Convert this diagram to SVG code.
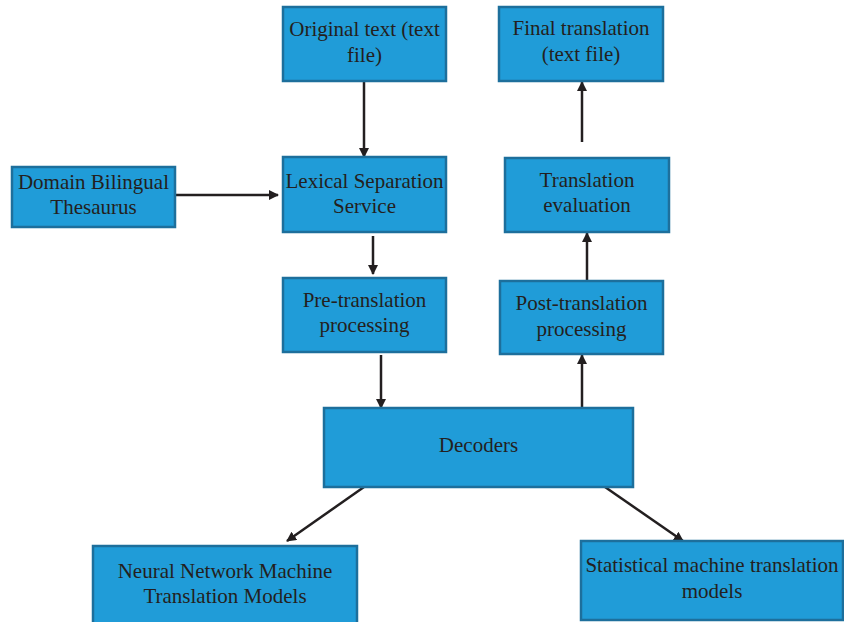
<svg xmlns="http://www.w3.org/2000/svg" width="844" height="622" viewBox="0 0 844 622">
<style>
.box{fill:#209cd8;stroke:#1d6f9c;stroke-width:2.5}
.t{font-family:"Liberation Serif","DejaVu Serif",serif;font-size:21px;fill:#231f20;text-anchor:middle}
.c{stroke:#231f20;stroke-width:2.5;fill:none;marker-end:url(#ah)}
</style>
<defs>
<marker id="ah" viewBox="0 0 10 10" refX="9" refY="5" markerWidth="4" markerHeight="4" markerUnits="strokeWidth" orient="auto">
<path d="M0,0 L10,5 L0,10 Z" fill="#231f20"/>
</marker>
</defs>
<rect width="844" height="622" fill="#fff"/>
<g id="connectors">
<line class="c" x1="364" y1="81" x2="364" y2="157"/>
<line class="c" x1="175" y1="195" x2="278" y2="195"/>
<line class="c" x1="373" y1="236" x2="373" y2="274"/>
<line class="c" x1="381" y1="355" x2="381" y2="408"/>
<line class="c" x1="582" y1="408" x2="582" y2="355"/>
<line class="c" x1="587" y1="281" x2="587" y2="233"/>
<line class="c" x1="582" y1="142" x2="582" y2="82"/>
<line class="c" x1="364" y1="487" x2="287" y2="541"/>
<line class="c" x1="605" y1="487" x2="683" y2="541"/>
</g>
<g id="original">
<rect class="box" x="283" y="7" width="163" height="74"/>
<text class="t" x="364.5" y="36">Original text (text</text>
<text class="t" x="364.5" y="62">file)</text>
</g>
<g id="final">
<rect class="box" x="499" y="7" width="164" height="74"/>
<text class="t" x="581" y="35">Final translation</text>
<text class="t" x="581" y="61">(text file)</text>
</g>
<g id="domain">
<rect class="box" x="12" y="167" width="163" height="60"/>
<text class="t" x="93.5" y="189">Domain Bilingual</text>
<text class="t" x="93.5" y="214">Thesaurus</text>
</g>
<g id="lexical">
<rect class="box" x="283" y="157" width="163" height="75"/>
<text class="t" x="364.5" y="188">Lexical Separation</text>
<text class="t" x="364.5" y="213">Service</text>
</g>
<g id="evaluation">
<rect class="box" x="505" y="158" width="164" height="74"/>
<text class="t" x="587" y="187">Translation</text>
<text class="t" x="587" y="212">evaluation</text>
</g>
<g id="pre">
<rect class="box" x="283" y="278" width="163" height="74"/>
<text class="t" x="364.5" y="307">Pre-translation</text>
<text class="t" x="364.5" y="332">processing</text>
</g>
<g id="post">
<rect class="box" x="500" y="281" width="163" height="73"/>
<text class="t" x="581.5" y="310">Post-translation</text>
<text class="t" x="581.5" y="336">processing</text>
</g>
<g id="decoders">
<rect class="box" x="324" y="408" width="309" height="79"/>
<text class="t" x="478.5" y="452">Decoders</text>
</g>
<g id="nn">
<rect class="box" x="93" y="546" width="264" height="80"/>
<text class="t" x="225" y="578">Neural Network Machine</text>
<text class="t" x="225" y="603">Translation Models</text>
</g>
<g id="smt">
<rect class="box" x="581" y="541" width="262" height="79"/>
<text class="t" x="712" y="572">Statistical machine translation</text>
<text class="t" x="712" y="598">models</text>
</g>
</svg>
